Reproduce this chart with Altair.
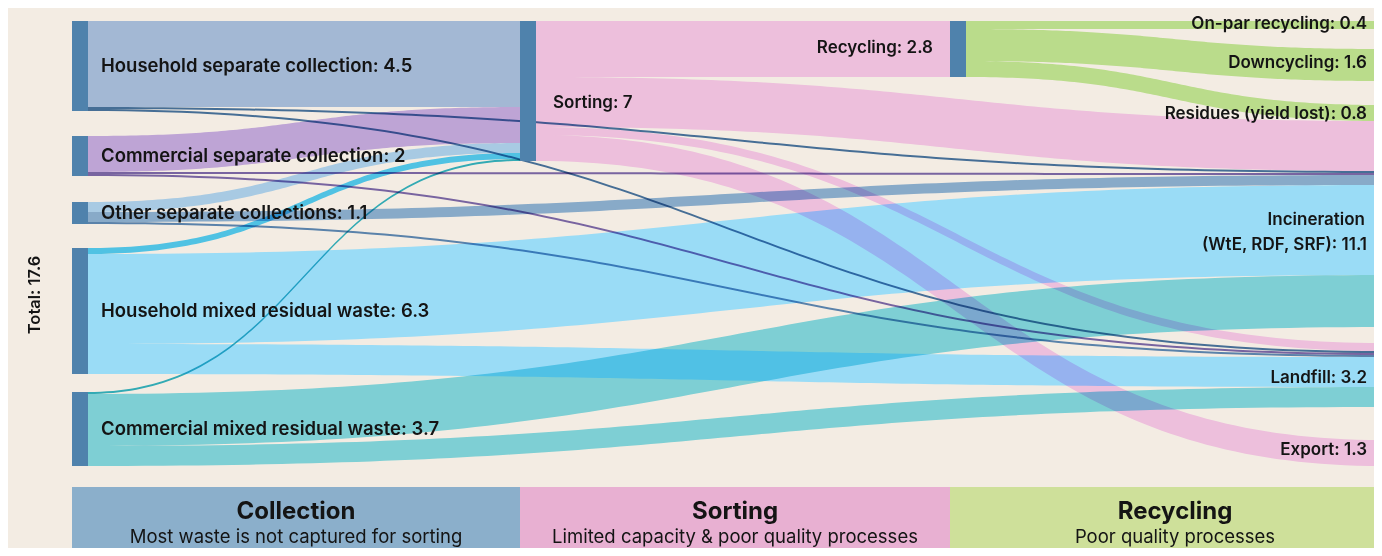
import altair as alt
import pandas as pd
import numpy as np

# ---------------- data ----------------
node_names = [
    "Household separate collection", "Commercial separate collection",
    "Other separate collections", "Household mixed residual waste",
    "Commercial mixed residual waste", "Sorting", "Recycling",
    "On-par recycling", "Downcycling", "Incineration", "Landfill", "Export",
]
node_values = [4.5, 2, 1.1, 6.3, 3.7, 7, 2.8, 0.4, 1.6, 11.1, 3.2, 1.3]
node_column = [0, 0, 0, 0, 0, 1, 2, 3, 3, 3, 3, 3]

link_source = ["HS", "HS", "HS", "CS", "CS", "CS", "OS", "OS", "OS",
               "HM", "HM", "HM", "CM", "CM", "CM",
               "SO", "SO", "SO", "SO", "RE", "RE", "RE"]
link_target = ["SO", "IN", "LA", "SO", "IN", "LA", "SO", "IN", "LA",
               "SO", "IN", "LA", "SO", "IN", "LA",
               "RE", "IN", "LA", "EX", "OP", "DO", "IN"]
link_value = [4.3, 0.1, 0.1, 1.8, 0.1, 0.1, 0.5, 0.5, 0.1,
              0.3, 4.5, 1.5, 0.1, 2.6, 1.0,
              2.8, 2.5, 0.4, 1.3, 0.4, 1.6, 0.8]

node_keys = ["HS", "CS", "OS", "HM", "CM", "SO", "RE", "OP", "DO", "IN", "LA", "EX"]

total_label = "Total: 17.6"
residues_label = "Residues (yield lost): 0.8"
stage_titles = ["Collection", "Sorting", "Recycling"]
stage_subtitles = ["Most waste is not captured for sorting",
                   "Limited capacity & poor quality processes",
                   "Poor quality processes"]

# ---------------- layout / style ----------------
node_top_gap = {"HS": 0, "CS": 5.75, "OS": 9.05, "HM": 11.35, "CM": 18.55,
                "SO": 0, "RE": 0, "OP": 0, "DO": 1.4, "IN": 4.2, "LA": 16.1, "EX": 20.95}
col_x = {0: (72, 88), 1: (520, 536), 2: (950, 966), 3: (1382, 1398)}
target_order = {
    "SO": ["HS", "CS", "OS", "HM", "CM"],
    "RE": ["SO"], "OP": ["RE"], "DO": ["RE"], "EX": ["SO"],
    "IN": ["RE", "SO", "HS", "CS", "OS", "HM", "CM"],
    "LA": ["SO", "HS", "CS", "OS", "HM", "CM"],
}
# colours are multiplied with what lies beneath them
band_color = {"HS": "#ABC7EE", "CS": "#C8B1F0", "OS": "#8FB8E1", "HM": "#9ADCF6",
              "CM": "#84E0EE", "SO": "#F9CFF8", "RE": "#C3EE9C"}
special_color = {("OS", "SO"): "#B0DBFF", ("HM", "SO"): "#54D2FF"}
thin_color = {"HS": "#4977A8", "CS": "#7E6CB4", "OS": "#5E8CBF", "CM": "#34B8CA"}
base_layer_sources = ["HM"]  # drawn first, without blending
NODE_COLOR = "#4F82AC"
BG = "#F3ECE3"
TXT = "#141414"
FONT = "Inter"

nodes = {k: dict(name=n, value=v, col=c, top=node_top_gap[k])
         for k, n, v, c in zip(node_keys, node_names, node_values, node_column)}

# stack links at sources (list order) and targets (target_order)
src_cursor = {k: nodes[k]["top"] for k in node_keys}
links = []
for i, (s, t, v) in enumerate(zip(link_source, link_target, link_value)):
    links.append(dict(id=f"L{i:02d}", s=s, t=t, v=v, sy=src_cursor[s]))
    src_cursor[s] += v
for t, order in target_order.items():
    cur = nodes[t]["top"]
    for s in order:
        for L in links:
            if L["s"] == s and L["t"] == t:
                L["ty"] = cur
                cur += L["v"]

rows = []
ts = np.linspace(0, 1, 100)
for L in links:
    x0 = col_x[nodes[L["s"]]["col"]][1]
    x1 = col_x[nodes[L["t"]]["col"]][0]
    xm = (x0 + x1) / 2
    if (L["s"], L["t"]) in special_color:
        col = special_color[(L["s"], L["t"])]
    elif L["v"] <= 0.15 and L["s"] in thin_color:
        col = thin_color[L["s"]]
    else:
        col = band_color[L["s"]]
    base = L["s"] in base_layer_sources and (L["s"], L["t"]) not in special_color
    for tt in ts:
        x = x0 * (1 - tt) ** 3 + 3 * xm * (1 - tt) ** 2 * tt + 3 * xm * (1 - tt) * tt ** 2 + x1 * tt ** 3
        yt = L["sy"] + (L["ty"] - L["sy"]) * (3 * tt ** 2 - 2 * tt ** 3)
        rows.append(dict(id=L["id"], x=float(x), y=float(yt), y2=float(yt + L["v"]),
                         color=col, base=base))
link_df = pd.DataFrame(rows)

node_rows = []
for k in node_keys:
    n = nodes[k]
    if n["col"] == 3:
        continue
    node_rows.append(dict(x=col_x[n["col"]][0], x2=col_x[n["col"]][1],
                          y=n["top"], y2=n["top"] + n["value"]))
node_df = pd.DataFrame(node_rows)


def fmt(v):
    return f"{v:g}"


lab = []
for k in ["HS", "CS", "OS", "HM", "CM"]:
    n = nodes[k]
    lab.append(dict(text=f"{n['name']}: {fmt(n['value'])}", x=col_x[0][1] + 13,
                    y=n["top"] + n["value"] / 2, side="big"))
lab.append(dict(text=f"Sorting: {fmt(nodes['SO']['value'])}", x=col_x[1][1] + 17,
                y=4.1, side="left"))
lab.append(dict(text=f"Recycling: {fmt(nodes['RE']['value'])}", x=col_x[2][0] - 17,
                y=nodes["RE"]["top"] + nodes["RE"]["value"] / 2 - 0.05, side="right"))
rx = 1367
lab.append(dict(text=f"On-par recycling: {fmt(nodes['OP']['value'])}", x=rx, y=0.15, side="right"))
lab.append(dict(text=f"Downcycling: {fmt(nodes['DO']['value'])}", x=rx, y=2.1, side="right"))
lab.append(dict(text=residues_label, x=rx, y=4.65, side="right"))
lab.append(dict(text="Incineration", x=rx - 2, y=9.95, side="right"))
lab.append(dict(text=f"(WtE, RDF, SRF): {fmt(nodes['IN']['value'])}", x=rx, y=11.2, side="right"))
lab.append(dict(text=f"Landfill: {fmt(nodes['LA']['value'])}", x=rx, y=17.85, side="right"))
lab.append(dict(text=f"Export: {fmt(nodes['EX']['value'])}", x=rx, y=21.45, side="right"))
lab_df = pd.DataFrame(lab)

banner_df = pd.DataFrame(dict(
    x=[72, 520, 950], x2=[520, 950, 1400], y=[23.3] * 3, y2=[27] * 3,
    color=["#8BAFCB", "#E8B0D2", "#CEE09A"],
    title=stage_titles, sub=stage_subtitles))
banner_df["xc"] = (banner_df["x"] + banner_df["x2"]) / 2
banner_df["ty"] = 24.55
banner_df["sy"] = 25.78

W, H = 1366, 540
xs = alt.Scale(domain=[8, 8 + W], nice=False, zero=False)
ys = alt.Scale(domain=[-0.65, -0.65 + H / 20], reverse=True, nice=False, zero=False)


def X(f):
    return alt.X(f"{f}:Q", scale=xs, axis=None)


def Y(f):
    return alt.Y(f"{f}:Q", scale=ys, axis=None)


areas_base = alt.Chart(link_df[link_df["base"]]).mark_area(orient="vertical").encode(
    x=X("x"), y=Y("y"), y2=alt.Y2("y2:Q"), detail="id:N",
    color=alt.Color("color:N", scale=None))
areas = alt.Chart(link_df[~link_df["base"]]).mark_area(orient="vertical", blend="multiply").encode(
    x=X("x"), y=Y("y"), y2=alt.Y2("y2:Q"), detail="id:N",
    color=alt.Color("color:N", scale=None))

bars = alt.Chart(node_df).mark_rect(color=NODE_COLOR).encode(
    x=X("x"), x2="x2:Q", y=Y("y"), y2="y2:Q")


def labels(df, align, size):
    return alt.Chart(df).mark_text(
        align=align, baseline="middle", font=FONT, fontSize=size, fontWeight=600, color=TXT
    ).encode(x=X("x"), y=Y("y"), text="text:N")


labels_big = labels(lab_df[lab_df["side"] == "big"], "left", 18.5)
labels_l = labels(lab_df[lab_df["side"] == "left"], "left", 17)
labels_r = labels(lab_df[lab_df["side"] == "right"], "right", 17)

total = alt.Chart(pd.DataFrame(dict(text=[total_label], x=[35], y=[13.7]))).mark_text(
    angle=270, align="center", baseline="middle", font=FONT, fontSize=16.5, fontWeight=600, color=TXT
).encode(x=X("x"), y=Y("y"), text="text:N")

banner = alt.Chart(banner_df).mark_rect(clip=True).encode(
    x=X("x"), x2="x2:Q", y=Y("y"), y2="y2:Q", color=alt.Color("color:N", scale=None))
btitle = alt.Chart(banner_df).mark_text(
    align="center", baseline="middle", font=FONT, fontSize=24, fontWeight="bold", color=TXT
).encode(x=X("xc"), y=Y("ty"), text="title:N")
bsub = alt.Chart(banner_df).mark_text(
    align="center", baseline="middle", font=FONT, fontSize=18.5, color=TXT
).encode(x=X("xc"), y=Y("sy"), text="sub:N")

chart = alt.layer(areas_base, areas, bars, labels_big, labels_l, labels_r, total,
                  banner, btitle, bsub).properties(
    width=W, height=H, padding=0, background=BG,
    autosize=alt.AutoSizeParams(type="none"),
).configure_view(stroke=None)

chart.save("out.html", embed_options={"renderer": "svg", "actions": False})
